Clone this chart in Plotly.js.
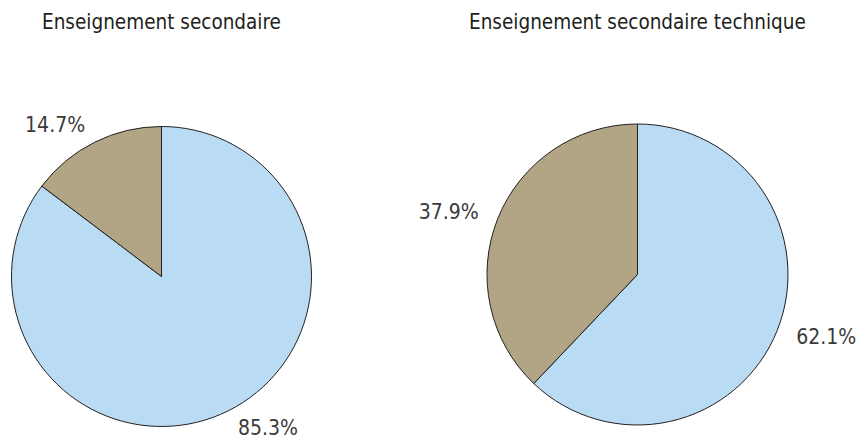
<!DOCTYPE html>
<html>
<head>
<meta charset="utf-8">
<script src="https://cdn.plot.ly/plotly-3.0.1.min.js"></script>
<style>html,body{margin:0;padding:0;background:#fff;}#chart{width:864px;height:441px;}</style>
</head>
<body>
<div id="chart"></div>
<script>
const categories = ["Catégorie A", "Catégorie B"];
const titles = ["Enseignement secondaire", "Enseignement secondaire technique"];
const valuesSecondaire = [85.3, 14.7];
const valuesTechnique = [62.1, 37.9];
const sliceColors = ["#b9dcf4", "#b2a586"];

const FONT = "'DejaVu Sans Condensed', 'Liberation Sans Narrow', Roboto, sans-serif";
const W = 864, H = 441;

// pie geometry in pixels (center x, center y, radius, label distance)
const pies = [
  {cx: 161.5, cy: 276.5, r: 150, pad: 8},
  {cx: 637.5, cy: 274.5, r: 150.5, pad: 14}
];

function dom(p, extra) {
  const r = p.r + extra;
  const clamp = v => Math.max(0, Math.min(1, v));
  return {
    x: [clamp((p.cx - r) / W), clamp((p.cx + r) / W)],
    y: [clamp((H - p.cy - r) / H), clamp((H - p.cy + r) / H)]
  };
}

const seriesList = [valuesSecondaire, valuesTechnique];
const data = [];
seriesList.forEach((vals, i) => {
  data.push({
    type: "pie",
    labels: categories,
    values: vals,
    sort: false,
    direction: "clockwise",
    rotation: 0,
    domain: dom(pies[i], 0),
    marker: {colors: sliceColors, line: {color: "#231f20", width: 1}},
    textinfo: "none",
    hoverinfo: "label+percent",
    showlegend: false
  });
  // transparent companion pie that carries the outside percentage labels
  data.push({
    type: "pie",
    labels: categories,
    values: vals,
    sort: false,
    direction: "clockwise",
    rotation: 0,
    domain: dom(pies[i], pies[i].pad),
    marker: {colors: ["rgba(0,0,0,0)", "rgba(0,0,0,0)"], line: {width: 0}},
    texttemplate: "%{value:.1f}%",
    textposition: "outside",
    outsidetextfont: {family: FONT, size: 21, color: "#3a3a3a"},
    hoverinfo: "skip",
    showlegend: false
  });
});

const annotations = titles.map((t, i) => ({
  text: t,
  xref: "paper", yref: "paper",
  x: pies[i].cx / W,
  y: 1 - 22 / H,
  xanchor: "center", yanchor: "middle",
  showarrow: false,
  font: {family: FONT, size: 20.5, color: "#231f20"}
}));

Plotly.newPlot("chart", data, {
  width: W, height: H,
  margin: {l: 0, r: 0, t: 0, b: 0},
  paper_bgcolor: "#ffffff",
  plot_bgcolor: "#ffffff",
  showlegend: false,
  annotations: annotations
}, {displayModeBar: false, staticPlot: true});
</script>
</body>
</html>
